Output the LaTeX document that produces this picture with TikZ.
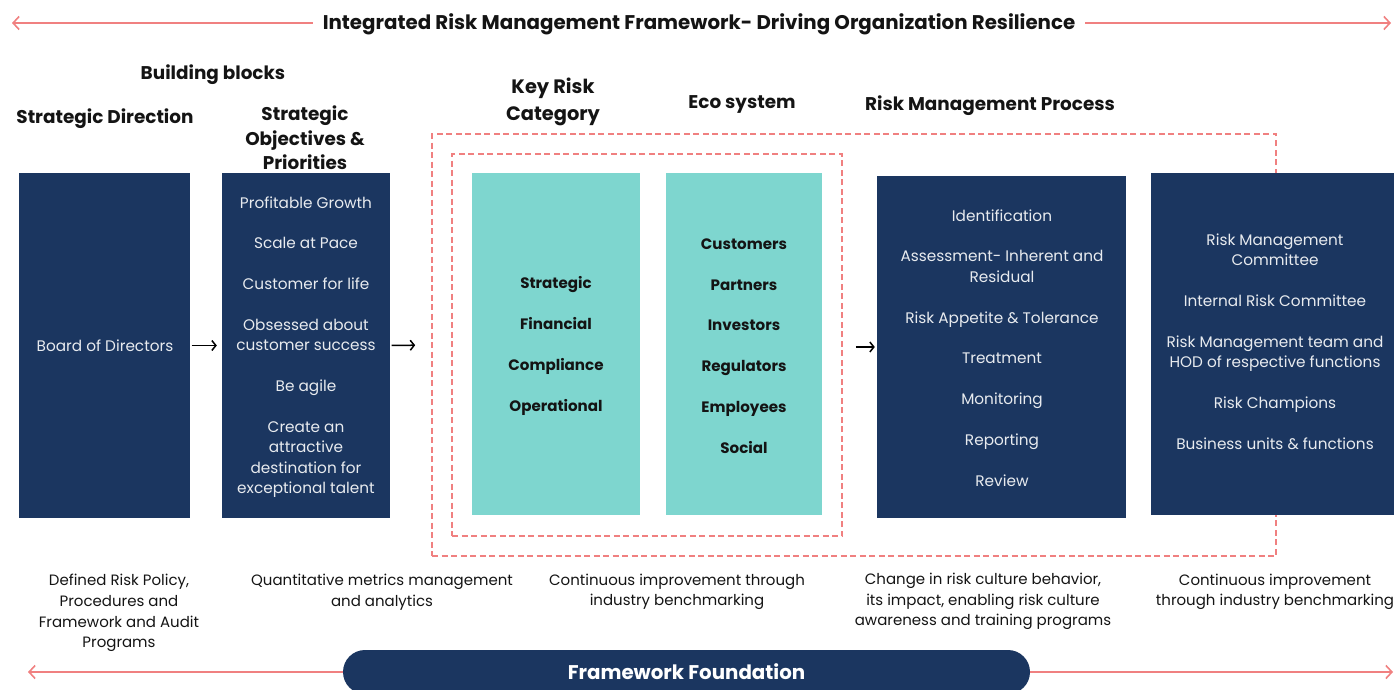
\documentclass[tikz,border=0pt]{standalone}
\usepackage{fontspec}
\setmainfont{Poppins}
\usetikzlibrary{arrows.meta}
\definecolor{navy}{RGB}{27,54,96}
\definecolor{tealc}{RGB}{126,214,207}
\definecolor{salmon}{RGB}{240,128,128}
\definecolor{ink}{RGB}{20,20,20}
\begin{document}
\begin{tikzpicture}[x=1pt,y=-1pt,
  box/.style={fill=navy, draw=none, inner sep=0pt},
  tbox/.style={fill=tealc, draw=none, inner sep=0pt},
  btext/.style={inner sep=0pt, text=white!90!navy, align=center,
    font=\fontsize{15.3}{20.4}\selectfont},
  ttext/.style={inner sep=0pt, text=ink, align=center,
    font=\fontsize{15.1}{20.4}\selectfont\bfseries},
  hdr/.style={inner sep=0pt, text=ink, align=center, font=\fontsize{18.4}{24.5}\selectfont\bfseries},
  foot/.style={inner sep=0pt, text=ink, align=center, font=\fontsize{15}{20.6}\selectfont},
  dashbox/.style={draw=salmon, line width=1.6pt, dash pattern=on 6pt off 3.5pt, inner sep=0pt, fill=none},
  sarrow/.style={draw=salmon, line width=1.6pt, -{Straight Barb[length=6pt,width=13pt,line width=1.6pt]}},
  barrow/.style={draw=black, line width=1.5pt, -{Straight Barb[length=4pt,width=10pt,line width=1.5pt]}},
  pill/.style={fill=navy, draw=none, rounded corners=22pt, inner sep=0pt, text=white,
    font=\fontsize{19.8}{22}\selectfont\bfseries}
]
\useasboundingbox (0,0) rectangle (1394,690);

% title
\node[inner sep=0pt, text=ink, font=\fontsize{19.8}{24}\selectfont\bfseries] (title) at (699,24)
  {Integrated Risk Management Framework- Driving Organization Resilience};
\coordinate (tl) at (12,23);
\coordinate (tr) at (1391,23);
\draw[sarrow] (title.west |- tl) ++(-10pt,0) -- (tl);
\draw[sarrow] (title.east |- tr) ++(10pt,0) -- (tr);

% headers
\node[hdr] (hbb) at (213,75) {Building blocks};
\node[hdr] (hsd) at (105,119) {Strategic Direction};
\node[hdr] (hso) at (305,138) {Strategic\\Objectives \&\\Priorities};
\node[hdr, font=\fontsize{19.4}{27}\selectfont\bfseries] (hkr) at (553,102) {Key Risk\\Category};
\node[hdr] (heco) at (742,104.5) {Eco system};
\node[hdr] (hrmp) at (990,105.5) {Risk Management Process};

% dashed frames
\node[dashbox, minimum width=844pt, minimum height=422pt] (outer) at (854,345) {};
\node[dashbox, minimum width=390pt, minimum height=382pt] (inner) at (647,345) {};

% boxes
\node[box, minimum width=171pt, minimum height=345pt] (bod) at (104.5,345.5) {};
\node[box, minimum width=168pt, minimum height=345pt] (sobj) at (306,345.5) {};
\node[tbox, minimum width=168pt, minimum height=342pt] (krc) at (556,344) {};
\node[tbox, minimum width=156pt, minimum height=342pt] (eco) at (744,344) {};
\node[box, minimum width=249pt, minimum height=342pt] (rmp) at (1001.5,347) {};
\node[box, minimum width=243pt, minimum height=342pt] (gov) at (1272.5,344) {};

% box texts
\node[btext] (bodt) at (105,346) {Board of Directors};
\node[btext] (sobjt) at (306,347)
  {Profitable Growth\\[20.4pt]Scale at Pace\\[20.4pt]Customer for life\\[20.4pt]Obsessed about\\customer success\\[20.4pt]Be agile\\[20.4pt]Create an\\attractive\\destination for\\exceptional talent};
\node[ttext] (krct) at (556,346)
  {Strategic\\[20.4pt]Financial\\[20.4pt]Compliance\\[20.4pt]Operational};
\node[ttext] (ecot) at (744,346)
  {Customers\\[20.4pt]Partners\\[20.4pt]Investors\\[20.4pt]Regulators\\[20.4pt]Employees\\[20.4pt]Social};
\node[btext] (rmpt) at (1002,348)
  {Identification\\[20.4pt]Assessment- Inherent and\\Residual\\[20.4pt]Risk Appetite \& Tolerance\\[20.4pt]Treatment\\[20.4pt]Monitoring\\[20.4pt]Reporting\\[20.4pt]Review};
\node[btext] (govt) at (1275,341.5)
  {Risk Management\\Committee\\[20.4pt]Internal Risk Committee\\[20.4pt]Risk Management team and\\HOD of respective functions\\[20.4pt]Risk Champions\\[20.4pt]Business units \& functions};

% flow arrows
\draw[barrow, shorten <=1.5pt, shorten >=5pt] (bod.east) -- (sobj.west);
\draw[barrow, shorten <=1.5pt, shorten >=16pt] (sobj.east) -- (outer.west);
\draw[barrow, shorten <=13pt, shorten >=2pt] (inner.east |- rmp.west) -- (rmp.west);

% foundation texts
\node[foot] (f1) at (119,613) {Defined Risk Policy,\\Procedures and\\Framework and Audit\\Programs};
\node[foot] (f2) at (382,592) {Quantitative metrics management\\and analytics};
\node[foot] (f3) at (677,592) {Continuous improvement through\\industry benchmarking};
\node[foot] (f4) at (983,601.5) {Change in risk culture behavior,\\its impact, enabling risk culture\\awareness and training programs};
\node[foot] (f5) at (1275,592) {Continuous improvement\\through industry benchmarking};

% foundation bar
\node[pill, minimum width=687pt, minimum height=44pt] (found) at (686.5,672) {Framework Foundation};
\coordinate (bl) at (28,672);
\coordinate (br) at (1393,672);
\draw[sarrow] (found.west) -- (bl);
\draw[sarrow] (found.east) -- (br);
\end{tikzpicture}
\end{document}
